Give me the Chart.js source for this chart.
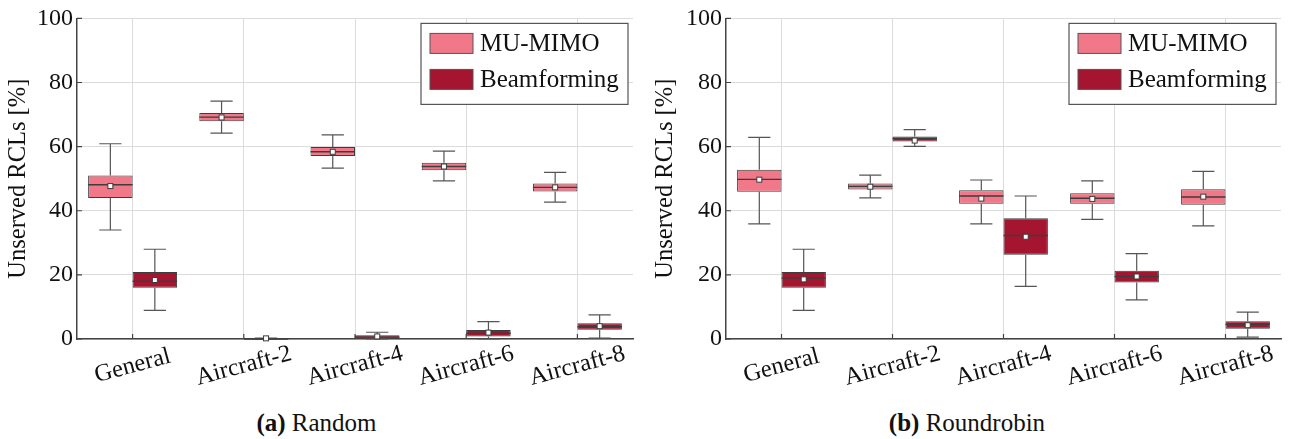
<!DOCTYPE html>
<html>
<head>
<meta charset="utf-8">
<script src="https://cdn.jsdelivr.net/npm/chart.js@4/dist/chart.umd.min.js"></script>
<style>
  html, body { margin: 0; padding: 0; background: #fff; }
  .row { display: flex; width: 1295px; height: 439px; }
  .panel { position: relative; height: 439px; }
  .plot { position: relative; height: 395px; }
  .caption { text-align: center; font-family: 'Liberation Serif', serif; font-size: 25px; color: #111; margin-top: 14px; }
  .caption b { font-weight: bold; }
</style>
</head>
<body>
<div class="row">
  <div class="panel" style="width:647px">
    <div class="plot"><canvas id="randomChart"></canvas></div>
    <div class="caption" style="padding-right:14px"><b>(a)</b> Random</div>
  </div>
  <div class="panel" style="width:648px">
    <div class="plot"><canvas id="roundrobinChart"></canvas></div>
    <div class="caption" style="padding-right:8px"><b>(b)</b> Roundrobin</div>
  </div>
</div>
<script>
/** Unserved RCLs per scheduler: box plots of MU-MIMO vs beamforming */

const categories = ['General', 'Aircraft-2', 'Aircraft-4', 'Aircraft-6', 'Aircraft-8'];
const yTicks = [0, 20, 40, 60, 80, 100];
const seriesNames = ['MU-MIMO', 'Beamforming'];

// each row: min, q1, median, q3, max, mean
const randomMuMimo = [
  [34.0, 44.0, 48.1, 51.0, 60.9, 47.7],
  [64.2, 67.9, 69.2, 70.5, 74.2, 69.1],
  [53.3, 57.1, 58.4, 59.9, 63.7, 58.4],
  [49.3, 52.6, 53.8, 55.0, 58.6, 53.8],
  [42.7, 46.0, 47.3, 48.5, 52.0, 47.3]
];
const randomBeamforming = [
  [8.9, 16.0, 18.0, 20.9, 28.0, 18.4],
  [0.0, 0.0, 0.0, 0.1, 0.3, 0.2],
  [0.0, 0.2, 0.6, 1.2, 2.1, 0.8],
  [0.0, 0.8, 1.8, 2.8, 5.4, 2.0],
  [0.3, 2.9, 3.8, 4.9, 7.5, 4.0]
];
const roundrobinMuMimo = [
  [35.9, 45.9, 49.8, 52.8, 62.9, 49.7],
  [44.0, 46.6, 47.6, 48.5, 51.1, 47.5],
  [35.9, 42.2, 44.6, 46.4, 49.6, 43.8],
  [37.3, 42.2, 43.9, 45.5, 49.3, 43.7],
  [35.3, 41.9, 44.3, 46.7, 52.3, 44.4]
];
const roundrobinBeamforming = [
  [8.9, 16.0, 19.0, 20.9, 28.0, 18.6],
  [60.1, 61.6, 62.5, 63.2, 65.3, 61.9],
  [16.4, 26.3, 32.3, 37.7, 44.6, 31.9],
  [12.2, 17.6, 19.5, 21.3, 26.6, 19.5],
  [0.6, 3.2, 4.6, 5.5, 8.4, 4.3]
];

const colors = ['#f07889', '#a51530'];
const edge = '#3d3d3d';
const serif = "'Liberation Serif', 'Times New Roman', serif";

// whiskers, medians, means, inward ticks, rotated labels and the boxed legend
const boxExtras = {
  id: 'boxExtras',
  afterDatasetsDraw(chart) {
    const { ctx } = chart;
    const y = chart.scales.y;
    chart.data.datasets.forEach((ds, i) => {
      const meta = chart.getDatasetMeta(i);
      meta.data.forEach((bar, j) => {
        const [mn, q1, med, q3, mx, mean] = ds.stats[j];
        const cx = bar.x, half = bar.width / 2, cap = bar.width / 4;
        ctx.save();
        ctx.strokeStyle = '#555';
        ctx.lineWidth = 1.2;
        ctx.beginPath();
        ctx.moveTo(cx, y.getPixelForValue(q3)); ctx.lineTo(cx, y.getPixelForValue(mx));
        ctx.moveTo(cx - cap, y.getPixelForValue(mx)); ctx.lineTo(cx + cap, y.getPixelForValue(mx));
        ctx.moveTo(cx, y.getPixelForValue(q1)); ctx.lineTo(cx, y.getPixelForValue(mn));
        ctx.moveTo(cx - cap, y.getPixelForValue(mn)); ctx.lineTo(cx + cap, y.getPixelForValue(mn));
        ctx.stroke();
        ctx.strokeStyle = edge;
        ctx.lineWidth = 1.4;
        ctx.beginPath();
        ctx.moveTo(cx - half, y.getPixelForValue(med)); ctx.lineTo(cx + half, y.getPixelForValue(med));
        ctx.stroke();
        const my = y.getPixelForValue(mean);
        ctx.fillStyle = '#fff';
        ctx.lineWidth = 1;
        ctx.fillRect(cx - 2.5, my - 2.5, 5, 5);
        ctx.strokeRect(cx - 2.5, my - 2.5, 5, 5);
        ctx.restore();
      });
    });
  },
  afterDraw(chart) {
    const { ctx, chartArea: a } = chart;
    const x = chart.scales.x, y = chart.scales.y;
    ctx.save();
    ctx.strokeStyle = '#444';
    ctx.lineWidth = 1.2;
    ctx.beginPath();
    x.ticks.forEach((t, i) => {
      const px = x.getPixelForTick(i);
      ctx.moveTo(px, a.bottom); ctx.lineTo(px, a.bottom - 5);
    });
    y.ticks.forEach((t, i) => {
      const py = y.getPixelForTick(i);
      ctx.moveTo(a.left, py); ctx.lineTo(a.left + 5, py);
    });
    ctx.stroke();

    // category labels, centred on the tick and tilted
    ctx.fillStyle = '#111';
    ctx.font = '24.5px ' + serif;
    ctx.textAlign = 'center';
    ctx.textBaseline = 'middle';
    x.ticks.forEach((t, i) => {
      ctx.save();
      ctx.translate(x.getPixelForTick(i), a.bottom + 27);
      ctx.rotate(-15 * Math.PI / 180);
      ctx.fillText(x.getLabelForValue(t.value), 0, 0);
      ctx.restore();
    });

    // legend in the top-right corner
    const w = 207, h = 81;
    const lx = a.right - 5 - w, ly = a.top + 5;
    ctx.fillStyle = '#fff';
    ctx.fillRect(lx, ly, w, h);
    ctx.strokeStyle = '#555';
    ctx.lineWidth = 1.2;
    ctx.strokeRect(lx, ly, w, h);
    ctx.font = '25px ' + serif;
    ctx.textAlign = 'left';
    chart.data.datasets.forEach((ds, i) => {
      const sy = ly + 10 + i * 36;
      ctx.fillStyle = ds.backgroundColor;
      ctx.fillRect(lx + 9, sy, 43, 20);
      ctx.strokeStyle = '#555';
      ctx.lineWidth = 1;
      ctx.strokeRect(lx + 9, sy, 43, 20);
      ctx.fillStyle = '#111';
      ctx.fillText(ds.label, lx + 59, sy + 11);
    });
    ctx.restore();
  }
};

function boxDataset(label, rows, color) {
  return {
    label,
    data: rows.map(r => [r[1], r[3]]),
    stats: rows,
    backgroundColor: color,
    borderColor: edge,
    borderWidth: 1,
    borderSkipped: false
  };
}

function renderPanel(canvasId, mimoRows, beamRows, axisWidth) {
  const ctx = document.getElementById(canvasId);
  return new Chart(ctx, {
    type: 'bar',
    data: {
      labels: categories,
      datasets: [
        boxDataset(seriesNames[0], mimoRows, colors[0]),
        boxDataset(seriesNames[1], beamRows, colors[1])
      ]
    },
    options: {
      responsive: true,
      maintainAspectRatio: false,
      animation: false,
      layout: { padding: { top: 17, right: 14, left: 0, bottom: 0 } },
      datasets: { bar: { categoryPercentage: 0.8, barPercentage: 1.0, grouped: true } },
      plugins: { legend: { display: false }, tooltip: { enabled: false } },
      scales: {
        x: {
          offset: true,
          grid: { offset: false, color: '#dcdcdc', lineWidth: 1, drawTicks: false },
          border: { color: '#444', width: 1.5 },
          ticks: { display: false },
          afterFit: s => { s.height = 56; }
        },
        y: {
          min: 0,
          max: 100,
          afterBuildTicks: s => { s.ticks = yTicks.map(v => ({ value: v })); },
          grid: { color: '#dcdcdc', lineWidth: 1, drawTicks: false },
          border: { color: '#444', width: 1.5 },
          ticks: { padding: 4, color: '#111', font: { family: serif, size: 24 } },
          title: {
            display: true,
            text: 'Unserved RCLs [%]',
            color: '#111',
            font: { family: serif, size: 24.5 },
            padding: { top: 4, bottom: 2 }
          },
          afterFit: s => { s.width = axisWidth; }
        }
      }
    },
    plugins: [boxExtras]
  });
}

renderPanel('randomChart', randomMuMimo, randomBeamforming, 77);
renderPanel('roundrobinChart', roundrobinMuMimo, roundrobinBeamforming, 79);
</script>
</body>
</html>
